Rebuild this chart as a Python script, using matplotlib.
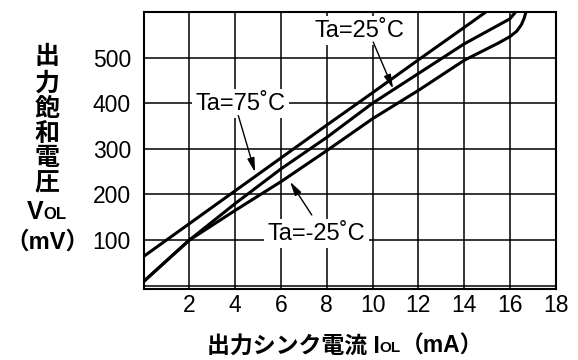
import matplotlib
matplotlib.use("Agg")
import matplotlib.pyplot as plt
from matplotlib.offsetbox import TextArea, HPacker, AnnotationBbox

plt.rcParams['font.family'] = ['Liberation Sans', 'Noto Sans CJK JP', 'DejaVu Sans']

# Output sink current I_OL (mA) vs. output saturation voltage V_OL (mV)
i_75 = [0, 2, 4, 6, 8, 10, 12, 14, 14.95]
v_75 = [64, 136, 208, 280, 352, 423, 495, 566, 600]

i_25 = [0, 2, 4, 6, 8, 10, 12, 14, 16, 16.25]
v_25 = [9, 100, 180, 256, 325, 400, 465, 530, 585, 600]

i_m25 = [0, 2, 4, 6, 8, 10, 12, 14, 15.5, 16.0, 16.3, 16.5, 16.62, 16.7]
v_m25 = [9, 100, 165, 228, 296, 366, 428, 494, 532, 546, 558, 572, 586, 600]

x_ticks = [2, 4, 6, 8, 10, 12, 14, 16, 18]
y_ticks = [100, 200, 300, 400, 500]

W, H = 578, 360
fig = plt.figure(figsize=(W / 100, H / 100), dpi=100)
ax = fig.add_axes([143.5 / W, 1 - 288.7 / H, (555.7 - 143.5) / W, (288.7 - 12) / H])

ax.set_xlim(0, 18)
ax.set_ylim(-6.5, 600)
ax.set_xticks([0] + x_ticks)
ax.set_xticklabels([''] + [str(v) for v in x_ticks])
ax.set_yticks([0] + y_ticks + [600])
ax.set_yticklabels([''] + [str(v) for v in y_ticks] + [''])
ax.tick_params(axis='both', length=0, labelsize=16.5)
ax.tick_params(axis='y', pad=9.0)
ax.tick_params(axis='x', pad=4.0)
ax.grid(True, color='black', lw=1.1)
ax.set_axisbelow(True)
for s in ax.spines.values():
    s.set_linewidth(1.5)

for xs, ys in ((i_75, v_75), (i_25, v_25), (i_m25, v_m25)):
    ax.plot(xs, ys, color='black', lw=2.2, solid_capstyle='butt', solid_joinstyle='round', zorder=3)

box = dict(facecolor='white', edgecolor='none', pad=2.5)
arrow = dict(arrowstyle='-|>,head_length=0.7,head_width=0.18', color='black', lw=1.0,
             mutation_scale=12, shrinkA=0, shrinkB=0)

ax.text(9.45, 559, 'Ta=25˚C', fontsize=17, ha='center', va='center', bbox=box, zorder=4)
ax.annotate('', xy=(10.9, 432), xytext=(10.03, 534), arrowprops=arrow, zorder=5)

ax.text(4.25, 399, 'Ta=75˚C', fontsize=17, ha='center', va='center', bbox=box, zorder=4)
ax.annotate('', xy=(4.87, 249), xytext=(4.14, 373), arrowprops=arrow, zorder=5)

ax.text(7.56, 114, 'Ta=-25˚C', fontsize=17, ha='center', va='center', bbox=box, zorder=4)
ax.annotate('', xy=(6.4, 228), xytext=(7.35, 155), arrowprops=arrow, zorder=5)


def place(pieces, cx, cy):
    """Pack text pieces on a shared baseline and centre them at (cx, cy) in image pixels."""
    areas = [TextArea(s, textprops=dict(fontsize=fs, fontweight='bold')) for s, fs in pieces]
    pack = HPacker(children=areas, align='baseline', pad=0, sep=0)
    ab = AnnotationBbox(pack, (cx, H - cy), xycoords='figure pixels', frameon=False,
                        box_alignment=(0.5, 0.5), pad=0)
    fig.add_artist(ab)


# vertical y-axis title
for ch, cy in zip('出力飽和電圧', [57, 84, 109, 134, 158, 183]):
    place([(ch, 18)], 47, cy)
place([('V', 18), ('OL', 12)], 47, 212)
place([('（mV）', 17)], 47, 242)

# x-axis title
place([('出力シンク電流 I', 16.5), ('OL', 11), ('（mA）', 16.5)], 345, 346)

fig.savefig('out.png', dpi=100)
